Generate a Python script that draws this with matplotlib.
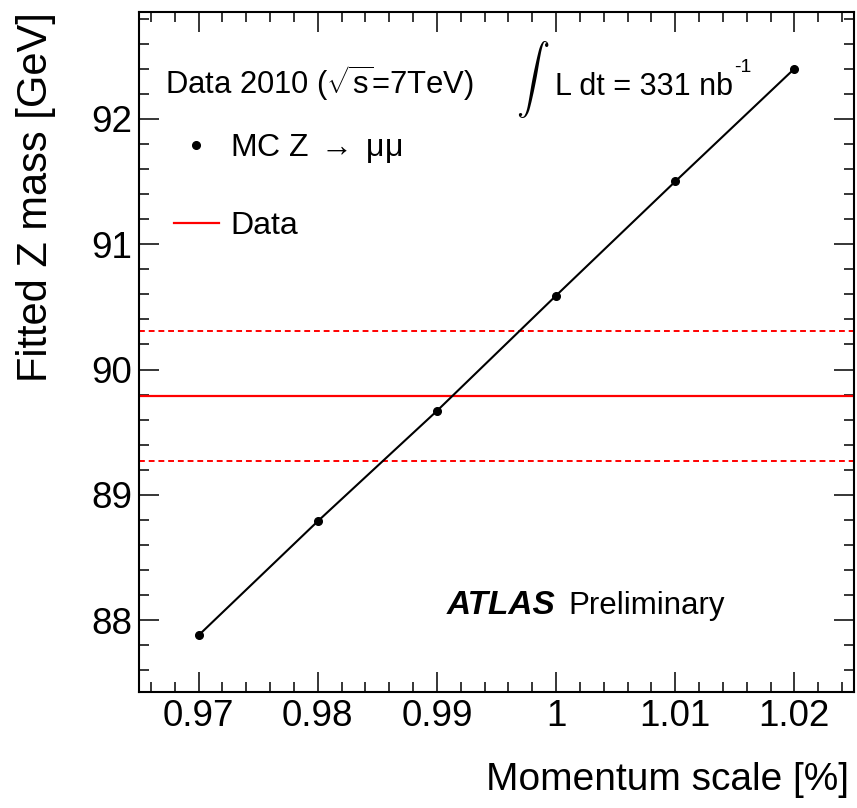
import numpy as np
import matplotlib.pyplot as plt
from matplotlib.lines import Line2D
from matplotlib.ticker import MultipleLocator, FixedLocator, FixedFormatter

#Data for the plot
scale = [0.97, 0.98, 0.99, 1.00, 1.01, 1.02]
mc_mass = [87.88, 88.79, 89.67, 90.59, 91.50, 92.40]
data_mass = 89.79
data_err = 0.52
x_ticks = [0.97, 0.98, 0.99, 1.00, 1.01, 1.02]
x_ticklabels = ['0.97', '0.98', '0.99', '1', '1.01', '1.02']
y_ticks = [88, 89, 90, 91, 92]
y_ticklabels = ['88', '89', '90', '91', '92']

plt.rcParams['font.family'] = ['Liberation Sans', 'DejaVu Sans']
plt.rcParams['mathtext.fontset'] = 'custom'
plt.rcParams['mathtext.rm'] = 'Liberation Sans'
plt.rcParams['mathtext.it'] = 'Liberation Sans:italic'
plt.rcParams['mathtext.sf'] = 'Liberation Serif'

W, H = 857, 808
fig = plt.figure(figsize=(W/100, H/100), dpi=100)
ax = fig.add_axes([139/W, 1-692/H, (854-139)/W, (692-12)/H])

#Fitted mass vs momentum scale
ax.plot(scale, mc_mass, color='black', lw=1.5, marker='o', ms=5.5, zorder=3)

#Data value with its band
ax.axhline(data_mass, color='red', lw=1.6)
ax.axhline(data_mass+data_err, color='red', lw=1.4, ls=(0, (3, 2)))
ax.axhline(data_mass-data_err, color='red', lw=1.4, ls=(0, (3, 2)))

#ROOT-like axis range (10% padding)
dx = max(scale)-min(scale)
dy = max(mc_mass)-min(mc_mass)
ax.set_xlim(min(scale)-0.1*dx, max(scale)+0.1*dx)
ax.set_ylim(min(mc_mass)-0.1*dy, max(mc_mass)+0.1*dy)

ax.xaxis.set_major_locator(FixedLocator(x_ticks))
ax.xaxis.set_major_formatter(FixedFormatter(x_ticklabels))
ax.yaxis.set_major_locator(FixedLocator(y_ticks))
ax.yaxis.set_major_formatter(FixedFormatter(y_ticklabels))
ax.xaxis.set_minor_locator(MultipleLocator(0.002))
ax.yaxis.set_minor_locator(MultipleLocator(0.2))
ax.tick_params(which='both', direction='in', top=True, right=True, width=1.1)
ax.tick_params(which='major', length=14.4, labelsize=26.5)
ax.tick_params(axis='x', which='major', pad=5)
ax.tick_params(axis='y', which='major', pad=5)
ax.tick_params(which='minor', length=7.2)
for s in ax.spines.values():
    s.set_linewidth(1.5)

#Axis titles
fig.text(849/W, 1-790/H, 'Momentum scale [%]', ha='right', va='baseline', fontsize=28)
fig.text(36/W, 1-12/H, 'Fitted Z mass [GeV]', rotation=90, ha='center', va='top', fontsize=30)

#Labels
fig.text(165/W, 1-94/H, r'Data 2010 ($\sqrt{\mathrm{s}}$=7TeV)', fontsize=22.3, va='baseline')
fig.text(533/W, 1-80/H, r'$\int$', fontsize=24, ha='center', va='center', math_fontfamily='cm')
lumi = fig.text(555/W, 1-95/H, 'L dt = 331 nb', fontsize=22, va='baseline')
ax.annotate('-1', xy=(1, 1), xycoords=lumi, xytext=(1, -3), textcoords='offset points',
            fontsize=14, ha='left', va='bottom')
fig.text(447/W, 1-614/H, 'ATLAS', fontsize=24, weight='bold', style='italic', va='baseline')
fig.text(568/W, 1-614/H, 'Preliminary', fontsize=22.5, va='baseline')

handles = [Line2D([], [], color='black', marker='o', ms=5.5, ls='none'),
           Line2D([], [], color='red', lw=1.6)]
leg = ax.legend(handles, [r'MC Z$\;\mathsf{\rightarrow}\;$μμ', 'Data'], loc='upper left',
                bbox_to_anchor=(174/W, 1-132/H), bbox_transform=fig.transFigure,
                frameon=False, fontsize=23, handlelength=1.4, handletextpad=0.35,
                labelspacing=1.45, borderpad=0, borderaxespad=0)

plt.savefig('out.png', dpi=100)
